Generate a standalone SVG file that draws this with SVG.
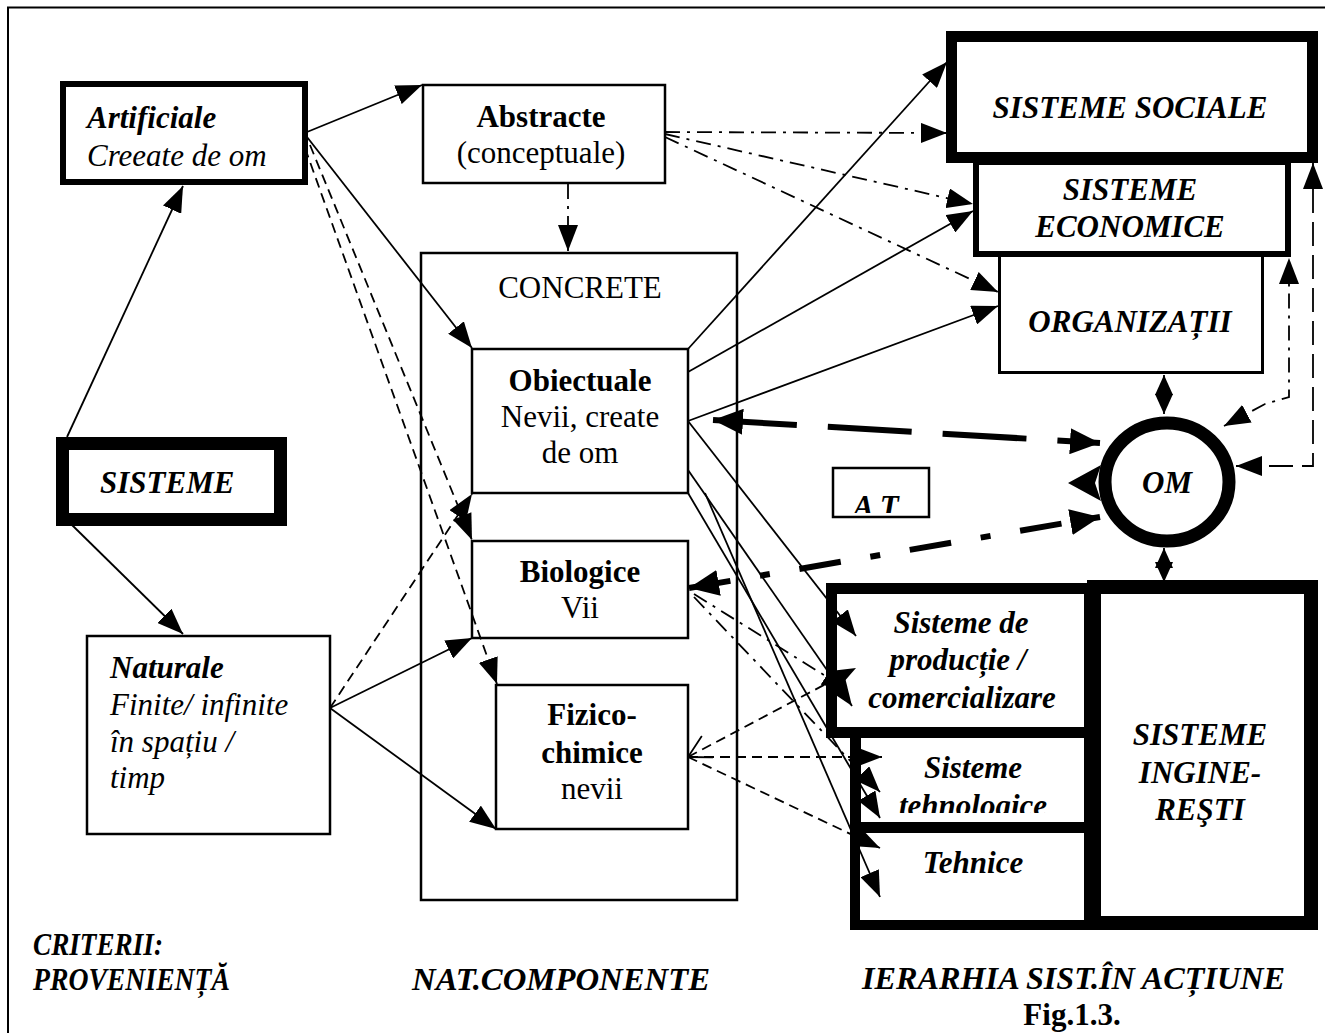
<svg xmlns="http://www.w3.org/2000/svg" width="1325" height="1033" viewBox="0 0 1325 1033">
<style>
.box{fill:#fff;stroke:#000}
.t{font-family:"Liberation Serif","Times New Roman",serif;font-size:31px;fill:#000}
.b{font-weight:bold}
.i{font-style:italic}
.c{text-anchor:middle}
.ln{fill:none;stroke:#000;stroke-width:1.8}
.ds{stroke-dasharray:10 6}
.dd{stroke-dasharray:15 7 3 7}
.ld{stroke-dasharray:24 9}
.bd{fill:none;stroke:#000;stroke-width:6;stroke-dasharray:84 31}
.bdd{fill:none;stroke:#000;stroke-width:6;stroke-dasharray:42 30 10 30}
</style>
<defs>
<marker id="ah" viewBox="0 0 26 20" refX="26" refY="10" markerWidth="26" markerHeight="20" markerUnits="userSpaceOnUse" orient="auto-start-reverse"><path d="M0,0 L26,10 L0,20 z"/></marker>
<marker id="as" viewBox="0 0 20 18" refX="20" refY="9" markerWidth="20" markerHeight="18" markerUnits="userSpaceOnUse" orient="auto-start-reverse"><path d="M0,0 L20,9 L0,18 z"/></marker>
<marker id="ab" viewBox="0 0 30 26" refX="30" refY="13" markerWidth="30" markerHeight="26" markerUnits="userSpaceOnUse" orient="auto-start-reverse"><path d="M0,0 L30,13 L0,26 z"/></marker>
<marker id="op" viewBox="0 0 24 26" refX="23" refY="13" markerWidth="24" markerHeight="26" markerUnits="userSpaceOnUse" orient="auto-start-reverse"><path d="M1,1 L23,13 L1,25" fill="none" stroke="#000" stroke-width="1.8"/></marker>
<clipPath id="clipAT"><rect x="833" y="468" width="97" height="45"/></clipPath>
<clipPath id="clipTehno"><rect x="850" y="727" width="240" height="86"/></clipPath>
</defs>

<rect x="8" y="7.5" width="1330" height="1040" fill="#fff" stroke="#000" stroke-width="2"/>

<g id="artificiale">
<rect class="box" x="63" y="84" width="242" height="98" stroke-width="6"/>
<text class="t b i" x="87" y="128">Artificiale</text>
<text class="t i" x="87" y="166">Creeate de om</text>
</g>
<g id="abstracte">
<rect class="box" x="423" y="85" width="242" height="98" stroke-width="2.5"/>
<text class="t b c" x="541" y="127">Abstracte</text>
<text class="t c" x="541" y="163">(conceptuale)</text>
</g>
<g id="sisteme">
<rect class="box" x="62.5" y="443.5" width="218" height="76" stroke-width="13"/>
<text class="t b i" x="100" y="493">SISTEME</text>
</g>
<g id="naturale">
<rect class="box" x="87" y="636" width="243" height="198" stroke-width="2.5"/>
<text class="t b i" x="110" y="678">Naturale</text>
<text class="t i" x="110" y="715">Finite/ infinite</text>
<text class="t i" x="110" y="752">în spațiu /</text>
<text class="t i" x="110" y="788">timp</text>
</g>
<g id="concrete">
<rect class="box" x="421" y="253" width="316" height="647" stroke-width="2.5"/>
<text class="t c" x="580" y="298">CONCRETE</text>
</g>
<g id="obiectuale">
<rect class="box" x="472" y="349" width="216" height="144" stroke-width="2.5"/>
<text class="t b c" x="580" y="391">Obiectuale</text>
<text class="t c" x="580" y="427">Nevii, create</text>
<text class="t c" x="580" y="463">de om</text>
</g>
<g id="biologice">
<rect class="box" x="472" y="541" width="216" height="97" stroke-width="2.5"/>
<text class="t b c" x="580" y="582">Biologice</text>
<text class="t c" x="580" y="618">Vii</text>
</g>
<g id="fizico">
<rect class="box" x="496" y="685" width="192" height="144" stroke-width="2.5"/>
<text class="t b c" x="592" y="725">Fizico-</text>
<text class="t b c" x="592" y="763">chimice</text>
<text class="t c" x="592" y="799">nevii</text>
</g>
<g id="organizatii">
<rect class="box" x="999.5" y="253.5" width="263" height="119" stroke-width="3"/>
<text class="t b i c" x="1130" y="332">ORGANIZAȚII</text>
</g>
<g id="economice">
<rect class="box" x="976" y="162" width="312" height="92" stroke-width="6"/>
<text class="t b i c" x="1130" y="200">SISTEME</text>
<text class="t b i c" x="1130" y="237">ECONOMICE</text>
</g>
<g id="sociale">
<rect class="box" x="951.5" y="36.5" width="361" height="121" stroke-width="11"/>
<text class="t b i c" x="1130" y="118">SISTEME SOCIALE</text>
</g>
<g id="at">
<rect class="box" x="833" y="468" width="96" height="49" stroke-width="2.5"/>
<text class="t b i" x="853" y="517" clip-path="url(#clipAT)">A T</text>
</g>
<g id="om">
<ellipse cx="1167" cy="482" rx="62" ry="59" fill="#fff" stroke="#000" stroke-width="13"/>
<path d="M1068,483 L1101,465 L1095,483 L1101,501 z"/>
<text class="t b i c" x="1167" y="493">OM</text>
</g>
<g id="productie">
<rect class="box" x="831.5" y="588.5" width="258" height="144" stroke-width="11"/>
<text class="t b i c" x="961" y="633">Sisteme de</text>
<text class="t b i c" x="958" y="670">producție /</text>
<text class="t b i c" x="962" y="708">comercializare</text>
</g>
<g id="tehnologice">
<rect class="box" x="855.5" y="732.5" width="234" height="95" stroke-width="11"/>
<text class="t b i c" x="973" y="778">Sisteme</text>
<text class="t b i c" x="973" y="816" clip-path="url(#clipTehno)">tehnologice</text>
</g>
<g id="tehnice">
<rect class="box" x="855" y="828" width="234" height="97" stroke-width="10"/>
<text class="t b i c" x="973" y="873">Tehnice</text>
</g>
<g id="ingineresti">
<rect class="box" x="1094" y="587" width="217" height="336" stroke-width="14"/>
<text class="t b i c" x="1200" y="745">SISTEME</text>
<text class="t b i c" x="1200" y="783">INGINE-</text>
<text class="t b i c" x="1200" y="820">REŞTI</text>
</g>

<g id="connectors">
<path class="ln" d="M67,437 L183,186" marker-end="url(#ah)"/>
<path class="ln" d="M72,525 L183,634" marker-end="url(#ah)"/>
<path class="ln" d="M307,132 L422,85" marker-end="url(#ah)"/>
<path class="ln" d="M307,137 L472,348" marker-end="url(#ah)"/>
<path class="ln ds" d="M310,145 L472,540" marker-end="url(#ah)"/>
<path class="ln ds" d="M305,148 L497,684" marker-end="url(#ah)"/>
<path class="ln" d="M330,708 L472,638" marker-end="url(#ah)"/>
<path class="ln" d="M330,708 L496,829" marker-end="url(#ah)"/>
<path class="ln ds" d="M330,708 L472,494" marker-end="url(#ah)"/>
<path class="ln dd" d="M568,184 L568,251" marker-end="url(#ah)"/>
<path class="ln dd" d="M665,132 L947,133" marker-end="url(#ah)"/>
<path class="ln dd" d="M665,134 L973,204" marker-end="url(#ah)"/>
<path class="ln dd" d="M665,137 L998,292" marker-end="url(#ah)"/>
<path class="ln" d="M688,349 L947,62" marker-end="url(#ah)"/>
<path class="ln" d="M688,372 L973,211" marker-end="url(#ah)"/>
<path class="ln" d="M688,421 L998,306" marker-end="url(#ah)"/>
<path class="ln" d="M688,421 L856,636" marker-end="url(#ah)"/>
<path class="ln" d="M688,470 L852,706" marker-end="url(#ah)"/>
<path class="ln" d="M688,493 L880,818" marker-end="url(#ah)"/>
<path class="ln" d="M705,493 L880,897" marker-end="url(#ah)"/>
<path class="ln ds" d="M688,757 L856,668" marker-start="url(#op)" marker-end="url(#ah)"/>
<path class="ln ds" d="M688,757 L882,757" marker-end="url(#ah)"/>
<path class="ln ds" d="M688,757 L880,848" marker-end="url(#ah)"/>
<path class="ln dd" d="M694,597 L880,792" marker-end="url(#ah)"/>
<path class="ln dd" d="M694,594 L848,690" marker-end="url(#ah)"/>
<path class="bd" d="M713,420 L1100,443" marker-start="url(#ab)" marker-end="url(#ab)"/>
<path class="bdd" d="M689,588 L1100,517" marker-start="url(#ab)" marker-end="url(#ab)"/>
<path class="ln" d="M1164,375 L1164,414" stroke-width="3" marker-start="url(#as)" marker-end="url(#as)"/>
<path class="ln" d="M1164,548 L1164,582" stroke-width="3" marker-start="url(#as)" marker-end="url(#as)"/>
<path class="ln dd" d="M1224,426 L1265,404 L1289,397 L1289,258" stroke-width="3" marker-start="url(#ah)" marker-end="url(#ah)"/>
<path class="ln ld" d="M1236,466 L1313,466 L1313,163" marker-start="url(#ah)" marker-end="url(#ah)"/>
</g>

<g id="labels">
<text class="t b i" x="33" y="955" textLength="130" lengthAdjust="spacingAndGlyphs">CRITERII:</text>
<text class="t b i" x="33" y="990" textLength="197" lengthAdjust="spacingAndGlyphs">PROVENIENȚĂ</text>
<text class="t b i" x="412" y="990" textLength="298" lengthAdjust="spacingAndGlyphs">NAT.COMPONENTE</text>
<text class="t b i" x="862" y="989" textLength="423" lengthAdjust="spacingAndGlyphs">IERARHIA SIST.ÎN ACȚIUNE</text>
<text class="t b c" x="1072" y="1025">Fig.1.3.</text>
</g>
</svg>
